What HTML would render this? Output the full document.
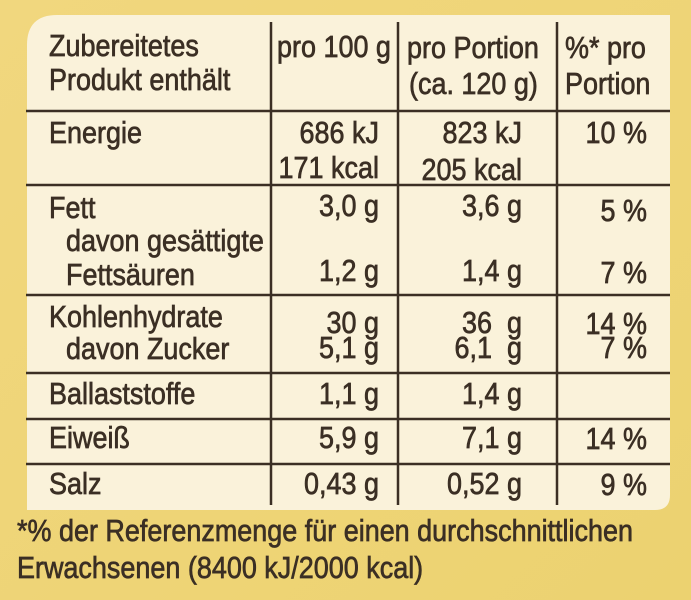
<!DOCTYPE html>
<html><head><meta charset="utf-8"><style>
html,body{margin:0;padding:0;width:691px;height:600px;overflow:hidden;background:#efd57a;}
svg{display:block}
text{font-family:"Liberation Sans",sans-serif;font-size:31px;fill:#3b2f24;stroke:#3b2f24;stroke-width:0.7;}
</style></head><body>
<svg width="691" height="600" viewBox="0 0 691 600">
<defs><linearGradient id="bg" x1="0" y1="0" x2="1" y2="1"><stop offset="0" stop-color="#f1d77e"/><stop offset="1" stop-color="#ecd270"/></linearGradient></defs>
<rect width="691" height="600" fill="url(#bg)"/>
<path d="M57 15 H670 V495 Q670 510 655 510 H27 V45 Q27 15 57 15 Z" fill="#faf2da"/>
<g stroke="#3b2f24" stroke-width="2.5">
<line x1="271" y1="22" x2="271" y2="505"/>
<line x1="398" y1="22" x2="398" y2="505"/>
<line x1="557" y1="22" x2="557" y2="505"/>
<line x1="26" y1="111" x2="670" y2="111"/>
<line x1="26" y1="185" x2="670" y2="185"/>
<line x1="26" y1="295" x2="670" y2="295"/>
<line x1="26" y1="373" x2="670" y2="373"/>
<line x1="26" y1="419" x2="670" y2="419"/>
<line x1="26" y1="464" x2="670" y2="464"/>
</g>
<g>
<text transform="translate(49,56) scale(.87,1)">Zubereitetes</text>
<text transform="translate(49,90) scale(.87,1)">Produkt enthält</text>
<text transform="translate(277,57) scale(.87,1)">pro 100 g</text>
<text transform="translate(407,58) scale(.87,1)">pro Portion</text>
<text transform="translate(409,94) scale(.87,1)">(ca. 120 g)</text>
<text transform="translate(565,58) scale(.87,1)">%* pro</text>
<text transform="translate(565,94) scale(.87,1)">Portion</text>

<text transform="translate(49,143) scale(.87,1)">Energie</text>
<text text-anchor="end" transform="translate(379,143) scale(.87,1)">686 kJ</text>
<text text-anchor="end" transform="translate(379,178) scale(.87,1)">171 kcal</text>
<text text-anchor="end" transform="translate(522,143) scale(.87,1)">823 kJ</text>
<text text-anchor="end" transform="translate(522,180) scale(.87,1)">205 kcal</text>
<text text-anchor="end" transform="translate(647,143) scale(.87,1)">10 %</text>

<text transform="translate(49,218) scale(.87,1)">Fett</text>
<text transform="translate(66,251) scale(.87,1)">davon gesättigte</text>
<text transform="translate(66,285) scale(.87,1)">Fettsäuren</text>
<text text-anchor="end" transform="translate(379,216) scale(.87,1)">3,0 g</text>
<text text-anchor="end" transform="translate(522,216) scale(.87,1)">3,6 g</text>
<text text-anchor="end" transform="translate(647,221) scale(.87,1)">5 %</text>
<text text-anchor="end" transform="translate(379,281) scale(.87,1)">1,2 g</text>
<text text-anchor="end" transform="translate(522,281) scale(.87,1)">1,4 g</text>
<text text-anchor="end" transform="translate(647,283) scale(.87,1)">7 %</text>

<text transform="translate(49,327) scale(.87,1)">Kohlenhydrate</text>
<text transform="translate(66,359) scale(.87,1)">davon Zucker</text>
<text text-anchor="end" transform="translate(379,333) scale(.87,1)">30 g</text>
<text text-anchor="end" transform="translate(522,333) scale(.87,1)">36 &#160;g</text>
<text text-anchor="end" transform="translate(647,334) scale(.87,1)">14 %</text>
<text text-anchor="end" transform="translate(379,358) scale(.87,1)">5,1 g</text>
<text text-anchor="end" transform="translate(522,358) scale(.87,1)">6,1 &#160;g</text>
<text text-anchor="end" transform="translate(647,358) scale(.87,1)">7 %</text>

<text transform="translate(49,404) scale(.87,1)">Ballaststoffe</text>
<text text-anchor="end" transform="translate(379,404) scale(.87,1)">1,1 g</text>
<text text-anchor="end" transform="translate(522,404) scale(.87,1)">1,4 g</text>

<text transform="translate(49,448) scale(.87,1)">Eiweiß</text>
<text text-anchor="end" transform="translate(379,448) scale(.87,1)">5,9 g</text>
<text text-anchor="end" transform="translate(522,448) scale(.87,1)">7,1 g</text>
<text text-anchor="end" transform="translate(647,449) scale(.87,1)">14 %</text>

<text transform="translate(49,494) scale(.87,1)">Salz</text>
<text text-anchor="end" transform="translate(379,494) scale(.87,1)">0,43 g</text>
<text text-anchor="end" transform="translate(522,494) scale(.87,1)">0,52 g</text>
<text text-anchor="end" transform="translate(647,495) scale(.87,1)">9 %</text>

<text transform="translate(17,541) scale(.87,1)">*% der Referenzmenge für einen durchschnittlichen</text>
<text transform="translate(17,578) scale(.87,1)">Erwachsenen (8400 kJ/2000 kcal)</text>
</g>
</svg>
</body></html>
